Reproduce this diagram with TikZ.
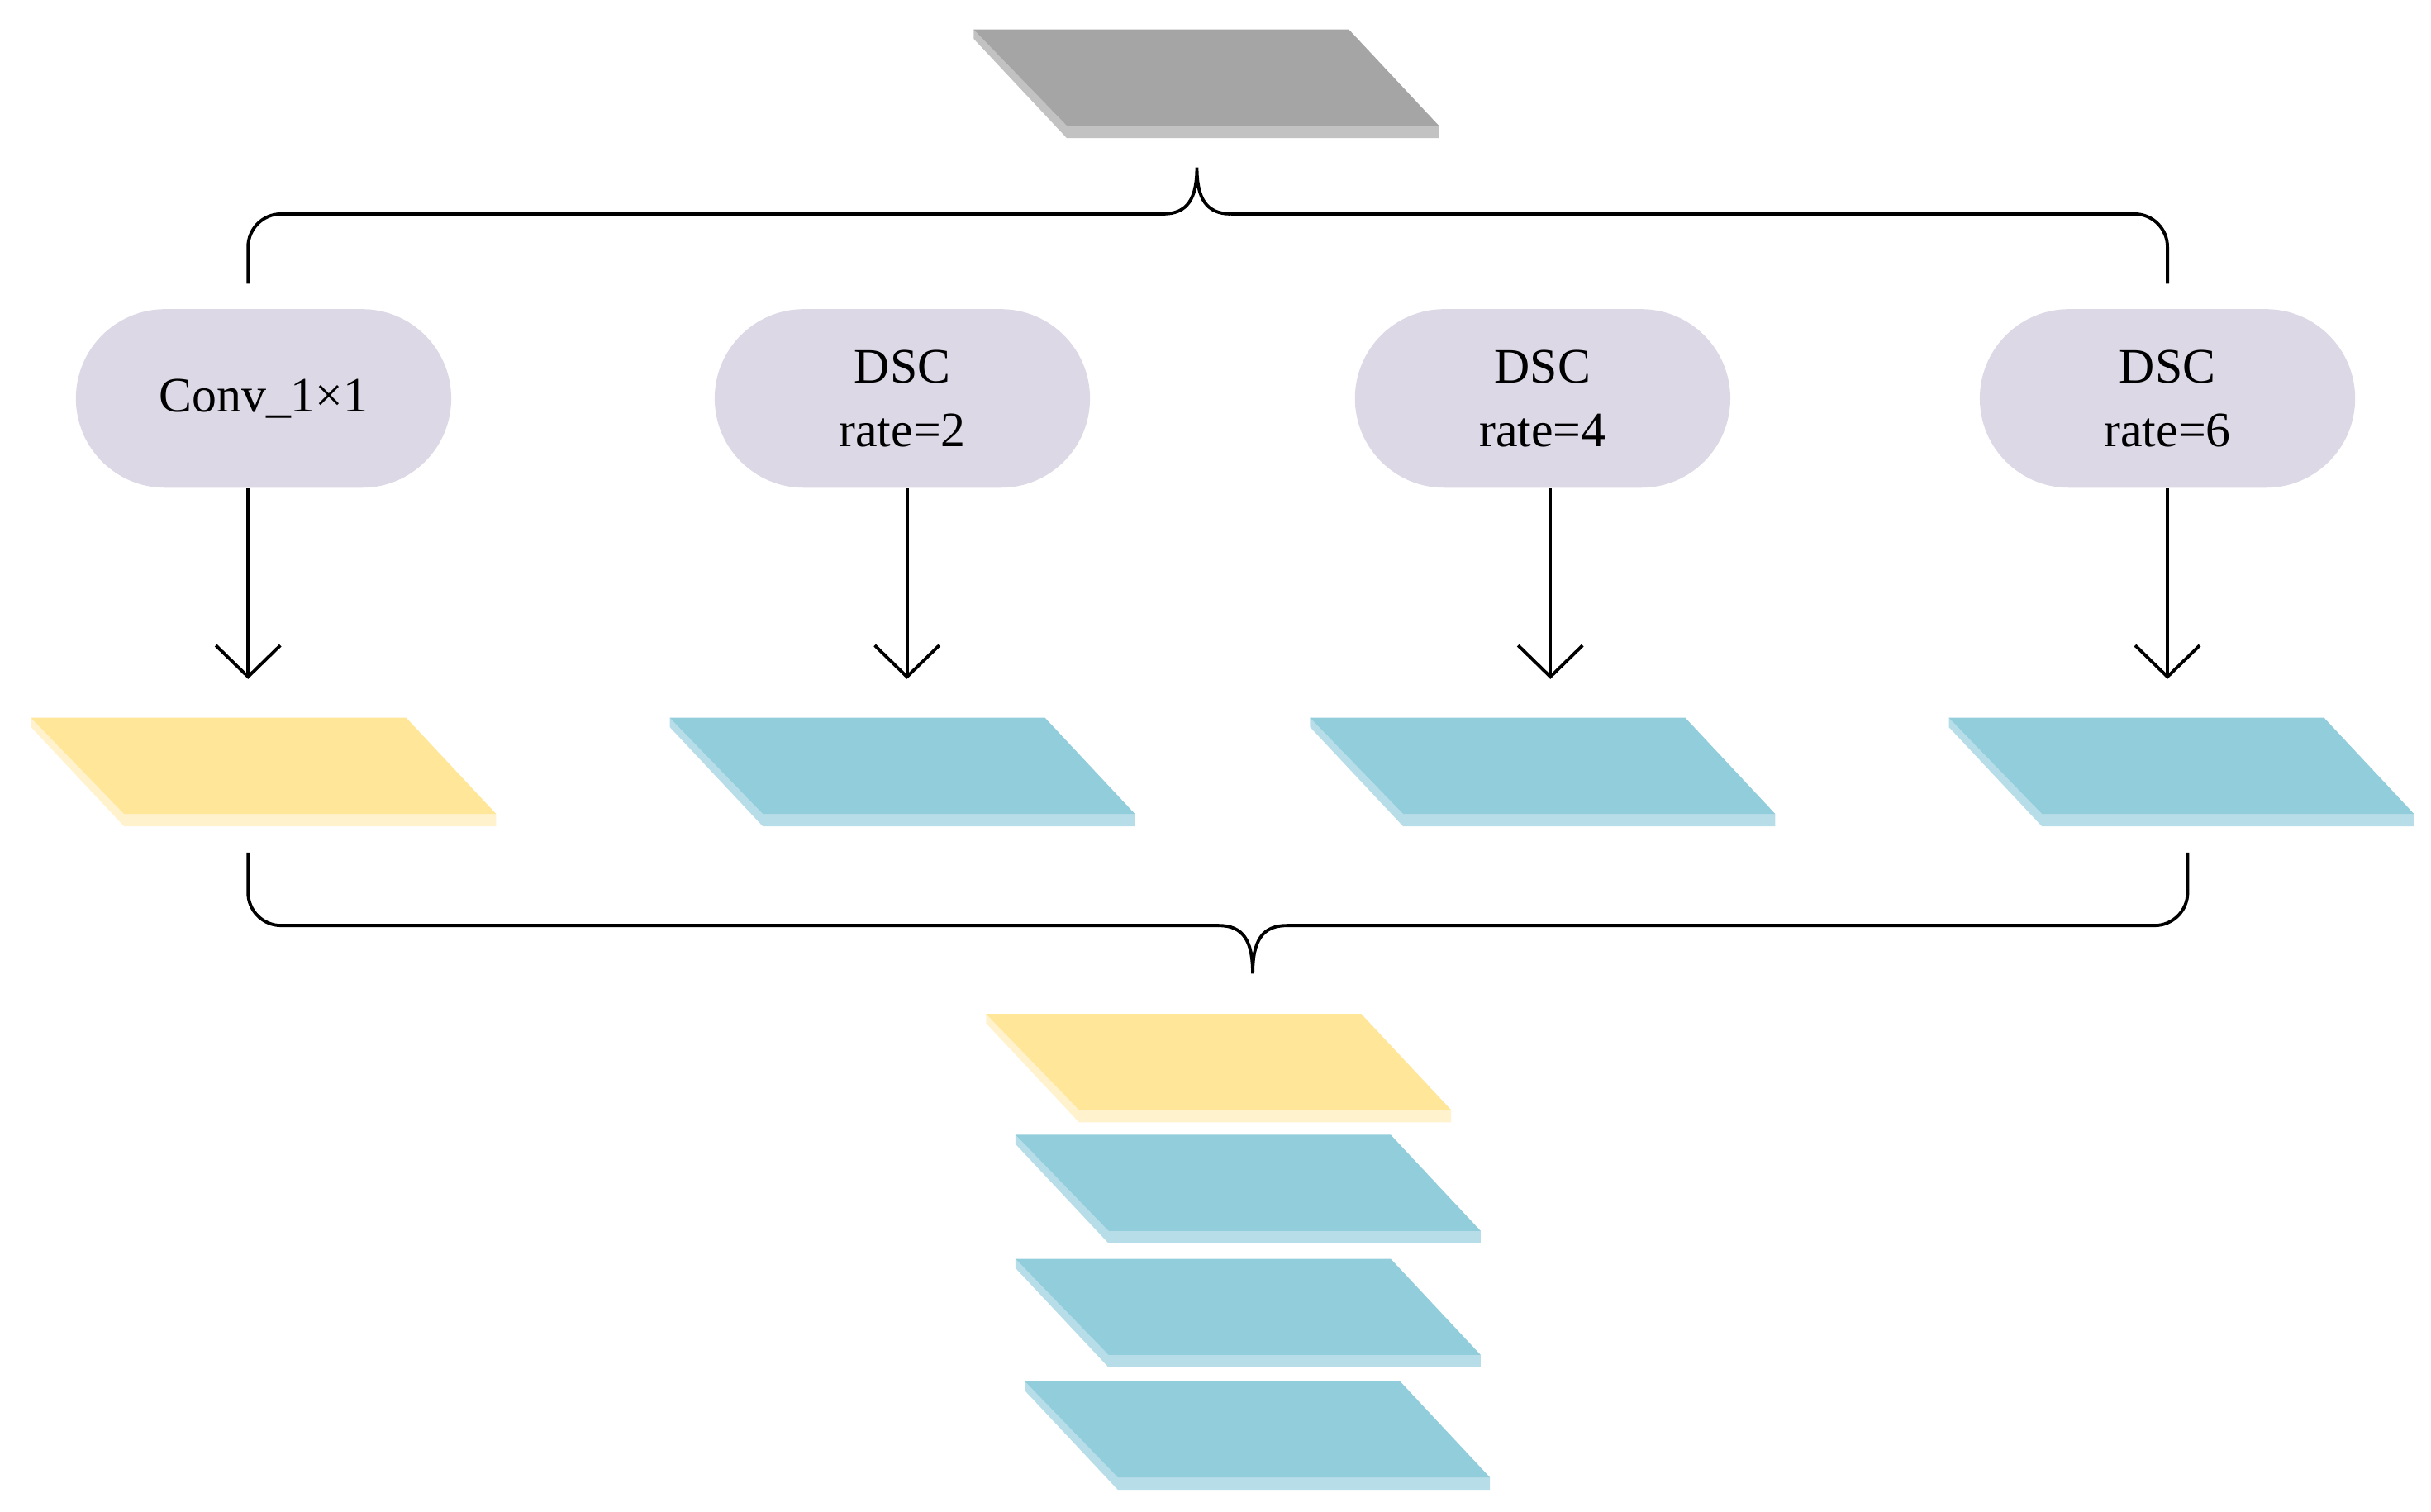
\documentclass[tikz,border=0pt]{standalone}
\usepackage{fontspec}
\setmainfont{Liberation Serif}
\usetikzlibrary{shapes.misc,arrows.meta}
\definecolor{pillc}{HTML}{DCD8E6}
\definecolor{grayT}{HTML}{A5A5A5}\definecolor{grayS}{HTML}{C2C2C2}
\definecolor{yelT}{HTML}{FFE699}\definecolor{yelS}{HTML}{FFF2CC}
\definecolor{bluT}{HTML}{92CDDC}\definecolor{bluS}{HTML}{B7DEE8}
\tikzset{
  pill/.style={rounded rectangle,fill=pillc,minimum width=4.54cm,minimum height=2.16cm,align=center,font=\fontsize{17}{22}\selectfont,inner sep=0pt},
  conn/.style={line width=1.1pt,black},
  arr/.style={conn,-{Straight Barb[width=0.78cm,length=0.38cm,line width=1.1pt]}},
  brace/.style={conn,rounded corners=0.4cm},
}
% slab: #1 x, #2 y of top-left corner, #3 top color, #4 side color
\newcommand\myslab[4]{%
  \fill[#4] (#1,#2) -- (#1+60,#2+62) -- (#1+300,#2+62) -- (#1+300,#2+70) -- (#1+60,#2+70) -- (#1,#2+6) -- cycle;
  \fill[#3] (#1,#2) -- (#1+242,#2) -- (#1+300,#2+62) -- (#1+60,#2+62) -- cycle;
}
\begin{document}
\begin{tikzpicture}[x=0.01876cm,y=-0.01876cm]
\useasboundingbox (0,0) rectangle (1568,975);
% top slab
\myslab{628}{19}{grayT}{grayS}
% top brace
\coordinate (tb) at (772,108);
\draw[brace] (160,183) |- (750,138);
\draw[conn] (750,138) .. controls (766,138) and (772,128) .. (tb) .. controls (772,128) and (778,138) .. (794,138);
\draw[brace] (794,138) -| (1398,183);
% pills
\node[pill] (p1) at (170,257) {Conv\_1×1};
\node[pill] (p2) at (582,257) {DSC\\rate=2};
\node[pill] (p3) at (995,257) {DSC\\rate=4};
\node[pill] (p4) at (1398,257) {DSC\\rate=6};
% arrows
\coordinate (a1) at (160,438); \coordinate (a2) at (585,438);
\coordinate (a3) at (1000,438); \coordinate (a4) at (1398,438);
\draw[arr] (p1.south -| a1) -- (a1);
\draw[arr] (p2.south -| a2) -- (a2);
\draw[arr] (p3.south -| a3) -- (a3);
\draw[arr] (p4.south -| a4) -- (a4);
% slabs row
\myslab{20}{463}{yelT}{yelS}
\myslab{432}{463}{bluT}{bluS}
\myslab{845}{463}{bluT}{bluS}
\myslab{1257}{463}{bluT}{bluS}
% bottom brace
\coordinate (bb) at (808,628);
\draw[brace] (160,550) |- (786,597);
\draw[conn] (786,597) .. controls (802,597) and (808,607) .. (bb) .. controls (808,607) and (814,597) .. (830,597);
\draw[brace] (830,597) -| (1411,550);
% stack
\myslab{636}{654}{yelT}{yelS}
\myslab{655}{732}{bluT}{bluS}
\myslab{655}{812}{bluT}{bluS}
\myslab{661}{891}{bluT}{bluS}
\end{tikzpicture}
\end{document}
